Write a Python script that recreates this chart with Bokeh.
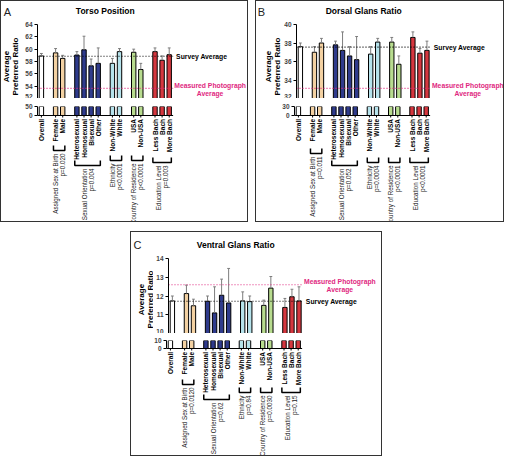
import math
from bokeh.plotting import figure
from bokeh.models import Range1d, LinearAxis, FixedTicker, Spacer, Column, Row
from bokeh.embed import file_html
from bokeh.resources import INLINE
from bokeh.core.properties import value

FONT = "Liberation Sans"

# ---------------- data ----------------
CATEGORIES = ["Overall", "Female", "Male", "Heterosexual", "Homosexual", "Bisexual", "Other",
              "Non-White", "White", "USA", "Non-USA", "Less Bach", "Bach", "More Bach"]
GROUP_OF = [0, 1, 1, 2, 2, 2, 2, 3, 3, 4, 4, 5, 5, 5]
GROUP_NAMES = ["", "Assigned Sex at Birth", "Sexual Orientation", "Ethnicity",
               "Country of Residence", "Education Level"]
GROUP_COLORS = ["#ffffff", "#f3d1a2", "#2f3b8c", "#b6e3ec", "#b8dc8f", "#d5373f"]

TORSO_MEAN = [58.9, 59.4, 58.5, 59.05, 59.9, 57.3, 57.7, 57.7, 59.6, 59.5, 56.7, 59.6, 58.2, 59.1]
TORSO_ERR = [0.4, 0.7, 0.5, 0.55, 2.2, 1.1, 2.5, 0.8, 0.5, 0.5, 1.0, 0.6, 0.7, 1.1]
TORSO_SURVEY = 58.85
TORSO_PHOTO = 53.65
TORSO_P = ["p=0.020", "p=0.004", "p<0.0001", "p<0.0001", "p=0.003"]
TORSO_TICKS = [52, 54, 56, 58, 60, 62, 64]
TORSO_STUB = 50

DORSAL_MEAN = [37.6, 37.0, 38.0, 37.8, 37.2, 36.6, 36.2, 36.8, 38.1, 38.1, 35.7, 38.6, 36.9, 37.2]
DORSAL_ERR = [0.4, 0.6, 0.5, 0.4, 2.0, 1.0, 2.5, 0.8, 0.4, 0.5, 0.9, 0.6, 0.5, 1.0]
DORSAL_SURVEY = 37.55
DORSAL_PHOTO = 33.1
DORSAL_P = ["p=0.011", "p=0.052", "p=0.0004", "p<0.0001", "p<0.0001"]
DORSAL_TICKS = [32, 34, 36, 38, 40]
DORSAL_STUB = 30

VENTRAL_MEAN = [11.74, 12.13, 11.48, 11.72, 11.1, 12.04, 11.63, 11.74, 11.7, 11.5, 12.42, 11.39, 11.96, 11.74]
VENTRAL_ERR = [0.26, 0.45, 0.35, 0.28, 1.39, 0.86, 1.84, 0.48, 0.3, 0.28, 0.62, 0.48, 0.4, 0.75]
VENTRAL_SURVEY = 11.72
VENTRAL_PHOTO = 12.6
VENTRAL_P = ["p=0.0120", "p=0.62", "p=0.84", "p=0.0030", "p=0.15"]
VENTRAL_TICKS = [10, 11, 12, 13, 14]
VENTRAL_STUB = 10

# ---------------- layout / style ----------------
SLOT = 7.1          # px per category slot
X_START = -0.55
POS = [i + g for i, g in enumerate(GROUP_OF)]
X_END = POS[-1] + 0.55
MAGENTA = "#e0287f"
ERR_COLOR = "#7d7d7d"
BAR_W = 0.62
EXT = 3             # px of stub figure below the broken x axis


def style_axis(ax, size="6.5px"):
    ax.axis_line_color = "black"
    ax.axis_line_width = 1
    ax.major_tick_line_color = "black"
    ax.minor_tick_line_color = None
    ax.major_tick_in = 0
    ax.major_tick_out = 3
    ax.major_label_standoff = 2
    ax.major_label_text_font = FONT
    ax.major_label_text_font_style = "bold"
    ax.major_label_text_font_size = size


def base_fig(w, h, xr, yr, left=0, top=0, bottom=0):
    p = figure(width=w, height=h, x_range=xr, y_range=yr, x_axis_type=None, y_axis_type=None,
               output_backend="svg", toolbar_location=None, min_border_left=left,
               min_border_right=0, min_border_top=top, min_border_bottom=bottom)
    p.outline_line_color = None
    p.background_fill_color = "white"
    p.border_fill_color = "white"
    return p


def make_panel(letter, title, means, errs, survey, photo, pvals, ticks, stub_top, L):
    W, Htot, ax, lw = L["w"], L["h"], L["axis_x"], L["left_w"]
    xr = Range1d(X_START, X_START + (W - ax) / SLOT)
    ymin, ymax = ticks[0], ticks[-1]
    Hm = L["main_bot"]
    ppu = (Hm - L["tick_top"]) / (ymax - ymin)
    y_end = ymax + L["tick_top"] / ppu
    colors = [GROUP_COLORS[g] for g in GROUP_OF]
    caps = [m + e for m, e in zip(means, errs)]

    # ---- left strip: panel letter and y-axis title ----
    pl = base_fig(lw, Hm, Range1d(0, lw), Range1d(Hm, 0))
    lx, ly = L["letter"]
    pl.text(x=[lx], y=[ly], text=[letter], text_align="center", text_baseline="middle",
            text_font=value(FONT), text_font_size="11px", text_color="#222222")
    pl.text(x=list(L["ylabel_x"]), y=[L["ylabel_y"]] * 2, text=["Average", "Preferred Ratio"],
            angle=math.pi / 2, text_align="center", text_baseline="middle",
            text_font=value(FONT), text_font_style="bold", text_font_size="8px",
            text_color="black")

    # ---- main section ----
    pm = base_fig(W - lw, Hm, xr, Range1d(ymin, y_end), left=ax - lw)
    yax = LinearAxis(ticker=FixedTicker(ticks=ticks), bounds=(ymin, ymax))
    style_axis(yax)
    pm.add_layout(yax, "left")
    pm.vbar(x=POS, width=BAR_W, bottom=0, top=means, fill_color=colors,
            line_color="black", line_width=1)
    pm.segment(x0=POS, y0=means, x1=POS, y1=caps, line_color=ERR_COLOR, line_width=1)
    pm.segment(x0=[x - 0.2 for x in POS], y0=caps, x1=[x + 0.2 for x in POS], y1=caps,
               line_color=ERR_COLOR, line_width=1)
    pm.segment(x0=[X_START], y0=[survey], x1=[X_END], y1=[survey], line_color="black",
               line_width=1.2, line_dash="1 2")
    pm.segment(x0=[X_START], y0=[photo], x1=[X_END], y1=[photo], line_color=MAGENTA,
               line_width=1.2, line_dash="1 2")
    pm.text(x=[X_END], y=[survey], text=["Survey Average"], x_offset=3, text_align="left",
            text_baseline="middle", text_font=value(FONT), text_font_style="bold",
            text_font_size="6.8px", text_color="black")
    pm.text(x=[X_END, X_END], y=[photo + 3 / ppu, photo - 5 / ppu],
            text=["Measured Photograph", "Average"], x_offset=37, text_align="center",
            text_baseline="middle", text_font=value(FONT), text_font_style="bold",
            text_font_size="6.8px", text_color=MAGENTA)
    pm.text(x=[(POS[0] + POS[-1]) / 2], y=[y_end - L["title_y"] / ppu], text=[title],
            text_align="center", text_baseline="middle", text_font=value(FONT),
            text_font_style="bold", text_font_size="8.5px", text_color="black")

    # ---- stub (broken axis) with the x axis line ----
    gap, sh = L["gap"], L["stub_h"]
    Hs = gap + sh + EXT
    upp = stub_top / sh                      # data units per px in the stub
    ps = base_fig(W, Hs, xr, Range1d(-EXT * upp, stub_top), left=ax, top=gap)
    sy = LinearAxis(ticker=FixedTicker(ticks=[0, stub_top]), bounds=(0, stub_top))
    style_axis(sy)
    ps.add_layout(sy, "left")
    ps.vbar(x=POS, width=BAR_W, bottom=0, top=means, fill_color=colors,
            line_color="black", line_width=1)
    ps.segment(x0=[X_START], y0=[0], x1=[X_END], y1=[0], line_color="black", line_width=1)
    ps.segment(x0=POS, y0=[0] * len(POS), x1=POS, y1=[-2 * upp] * len(POS),
               line_color="black", line_width=1)

    # ---- category labels, brackets, group labels ----
    Hg = Htot - Hm - Hs
    pg = base_fig(W, Hg, xr, Range1d(Hg, 0), left=ax)
    pg.text(x=POS, y=[3.5 - EXT] * len(POS), text=CATEGORIES, angle=math.pi / 2,
            text_align="right", text_baseline="middle", text_font=value(FONT),
            text_font_style="bold", text_font_size="6.5px", text_color="black")
    bxs, bys, cx, cy, names = [], [], [], [], []
    for g in range(1, len(GROUP_NAMES)):
        ps_g = [p for p, gg in zip(POS, GROUP_OF) if gg == g]
        x0, x1 = min(ps_g) - 0.3, max(ps_g) + 0.3
        yb = L["drops"][g - 1] - EXT
        bxs.append([x0, x0, x1, x1])
        bys.append([yb - 5, yb, yb, yb - 5])
        cx.append((x0 + x1) / 2)
        cy.append(yb + 3)
        names.append(GROUP_NAMES[g])
    pg.multi_line(xs=bxs, ys=bys, line_color="black", line_width=1.5)
    pg.text(x=cx, y=cy, text=names, angle=math.pi / 2, x_offset=-3.5, text_align="right",
            text_baseline="middle", text_font=value(FONT), text_font_size="6.3px",
            text_color="#222222")
    pg.text(x=cx, y=cy, text=pvals, angle=math.pi / 2, x_offset=3.5, text_align="right",
            text_baseline="middle", text_font=value(FONT), text_font_size="6.3px",
            text_color="#222222")

    return Column(children=[Row(children=[pl, pm], spacing=0), ps, pg], spacing=0,
                  styles={"border": "1px solid #333333"})


LAYOUT_A = dict(w=246, h=220, axis_x=36, left_w=20, tick_top=23, main_bot=97, gap=8, stub_h=9,
                letter=(6, 10), title_y=9, ylabel_x=(5, 14), ylabel_y=65,
                drops=[35, 50, 45, 45, 47])
LAYOUT_B = dict(w=247, h=220, axis_x=38, left_w=25, tick_top=23, main_bot=97, gap=8, stub_h=9,
                letter=(5, 10), title_y=9, ylabel_x=(12, 21), ylabel_y=65,
                drops=[38, 50, 47, 47, 47])
LAYOUT_C = dict(w=250, h=223, axis_x=35, left_w=22, tick_top=26, main_bot=101, gap=7, stub_h=8,
                letter=(6, 12), title_y=12, ylabel_x=(10, 18.5), ylabel_y=67,
                drops=[36, 51, 44, 44, 44])

pA = make_panel("A", "Torso Position", TORSO_MEAN, TORSO_ERR, TORSO_SURVEY, TORSO_PHOTO,
                TORSO_P, TORSO_TICKS, TORSO_STUB, LAYOUT_A)
pB = make_panel("B", "Dorsal Glans Ratio", DORSAL_MEAN, DORSAL_ERR, DORSAL_SURVEY, DORSAL_PHOTO,
                DORSAL_P, DORSAL_TICKS, DORSAL_STUB, LAYOUT_B)
pC = make_panel("C", "Ventral Glans Ratio", VENTRAL_MEAN, VENTRAL_ERR, VENTRAL_SURVEY,
                VENTRAL_PHOTO, VENTRAL_P, VENTRAL_TICKS, VENTRAL_STUB, LAYOUT_C)

root = Column(children=[
    Row(children=[pA, Spacer(width=7, height=10), pB], spacing=0),
    Spacer(width=10, height=9),
    Row(children=[Spacer(width=130, height=10), pC], spacing=0),
], spacing=0)

open("out.html", "w").write(file_html(root, INLINE, title="Preferred ratios"))
